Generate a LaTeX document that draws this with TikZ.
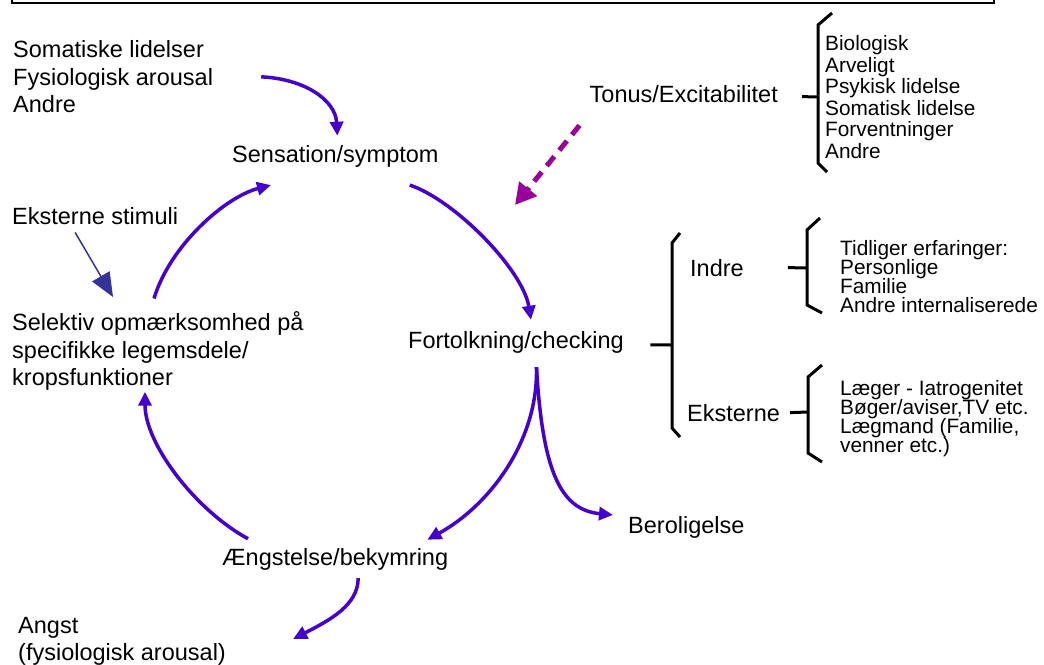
\documentclass[tikz,border=0pt]{standalone}
\usepackage{fontspec}
\setmainfont{Liberation Sans}
\usetikzlibrary{arrows.meta}
\definecolor{cycblue}{RGB}{68,0,204}
\definecolor{pushviolet}{RGB}{153,0,153}
\definecolor{stimblue}{RGB}{51,51,153}

\begin{document}
\lineskiplimit=-20pt
\begin{tikzpicture}[x=1pt,y=-1pt,
    txt/.style={inner sep=0pt,font=\fontsize{23.5}{27.5}\selectfont},
    lst/.style={inner sep=0pt,align=left,anchor=north west,
        font=\fontsize{20.8}{19}\selectfont},
    cyc/.style={draw=cycblue,line width=3.5pt,-{Triangle[length=14pt,width=13pt]}},
    brace/.style={draw,line width=3pt}]
    \useasboundingbox (0,0) rectangle (1044,664);
    \draw[line width=1.5pt] (12,-20) rectangle (994,3);

    \node[txt,anchor=north west,align=left] (somat) at (13,40.5) {Somatiske lidelser\\Fysiologisk arousal\\Andre};
    \node[txt,anchor=base west] (sens) at (232,162) {Sensation/symptom};
    \node[txt,anchor=base west] (ekst) at (12,224) {Eksterne stimuli};
    \node[txt,anchor=north west,align=left] (sel) at (12,311.5) {Selektiv opmærksomhed på\\specifikke legemsdele/\\kropsfunktioner};
    \node[txt,anchor=base west] (fort) at (408,348) {Fortolkning/checking};
    \node[txt,anchor=base west] (berol) at (628,533) {Beroligelse};
    \node[txt,anchor=base west] (aeng) at (222,565) {Ængstelse/bekymring};
    \node[txt,anchor=north west,align=left] (angst) at (18,617) {Angst\\(fysiologisk arousal)};
    \node[txt,anchor=base east] (tonus) at (778,102) {Tonus/Excitabilitet};
    \node[txt,anchor=base west] (indre) at (690,276) {Indre};
    \node[txt,anchor=base west] (ekstern) at (687,421) {Eksterne};

    \node[lst,font=\fontsize{20.8}{21.6}\selectfont] (biol) at (825,35.3)
        {Biologisk\\Arveligt\\Psykisk lidelse\\Somatisk lidelse\\Forventninger\\Andre};
    \node[lst] (intl) at (840,240)
        {Tidliger erfaringer:\\Personlige\\Familie\\Andre internaliserede};
    \node[lst] (extl) at (840,380)
        {Læger - Iatrogenitet\\Bøger/aviser,TV etc.\\Lægmand (Familie,\\venner etc.)};

    \draw[cyc] ([shift={(48,0)}]somat.east) .. controls +(43,2) and +(-2,-36) .. ([shift={(2,-9)}]sens.north);
    \draw[cyc] ([shift={(-29,18)}]sens.south east) .. controls +(45,15) and +(-8,-50) .. ([shift={(15,-11)}]fort.north);
    \draw[cyc] ([shift={(20.5,14)}]fort.south) .. controls +(2,73) and +(63,-35) .. ([shift={(-21,-8)}]aeng.north east);
    \draw[cyc] ([shift={(20.5,14)}]fort.south) .. controls +(6,103) and +(-53,-5) .. ([shift={(-15,-12)}]berol.west);
    \draw[cyc] ([shift={(23,8)}]aeng.south) .. controls +(0,27) and +(37,-19) .. ([shift={(67,22)}]angst.north east);
    \draw[cyc] ([shift={(26,-9)}]aeng.north west) .. controls +(-53,-29) and +(0,52) .. ([shift={(133,1)}]sel.south west);
    \draw[cyc] ([shift={(142,-13)}]sel.north west) .. controls +(16,-53) and +(-46,12) .. ([shift={(39,18)}]sens.south west);

    \draw[draw=stimblue,line width=1.5pt,-{Triangle[length=24pt,width=20pt]}]
        ([shift={(-20,8)}]ekst.south) -- ([shift={(101,-14.5)}]sel.north west);

    \coordinate (press) at (515,205);
    \draw[draw=pushviolet,line width=5pt,dash pattern=on 12pt off 8pt,-{Triangle[length=21pt,width=22pt]}]
        ([shift={(-10,23)}]tonus.south west) -- (press);

    \coordinate (b1) at (818,97);
    \coordinate (b2) at (672,345);
    \coordinate (b3) at (807,268);
    \coordinate (b4) at (808,412);
    \draw[brace] (832,13) -- (818,25) -- (818,163) -- (827,172);
    \draw[brace] (680,233) -- (672,243) -- (672,428) -- (680,437);
    \draw[brace] (820,218) -- (807,230) -- (807,305) -- (822,313);
    \draw[brace] (822,365) -- (808,377) -- (808,453) -- (822,462);
    \draw[brace] ([shift={(24,3)}]tonus.east) -- (b1);
    \draw[brace] ([shift={(26.5,3)}]fort.east) -- (b2);
    \draw[brace] ([shift={(44,0)}]indre.east) -- (b3);
    \draw[brace] ([shift={(10,0)}]ekstern.east) -- (b4);
\end{tikzpicture}
\end{document}
